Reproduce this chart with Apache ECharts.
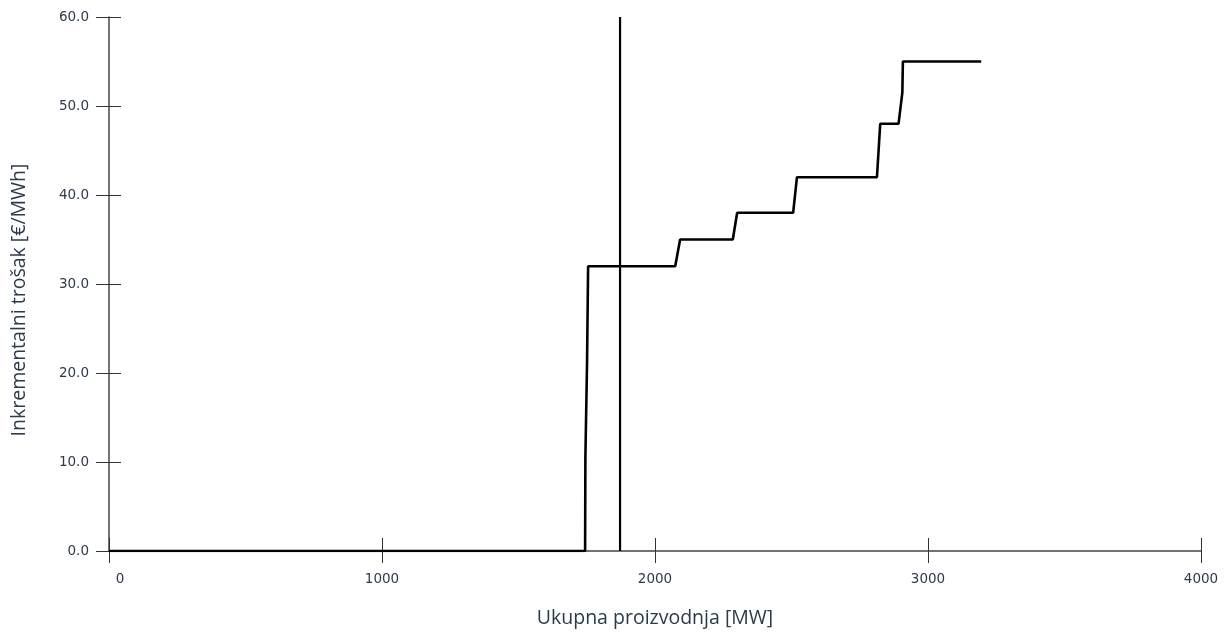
<!DOCTYPE html>
<html>
<head>
<meta charset="utf-8">
<script src="https://cdn.jsdelivr.net/npm/echarts@6/dist/echarts.min.js"></script>
<style>
  html, body { margin: 0; padding: 0; background: #fff; }
  #chart { width: 1225px; height: 634px; }
</style>
</head>
<body>
<div id="chart"></div>
<script>
// total production [MW] and incremental cost [€/MWh]
const production = [0, 1744, 1745, 1750, 1751, 1754, 1755, 2074, 2092, 2285, 2301, 2506, 2520, 2813, 2825, 2892, 2906, 2908, 3195];
const cost       = [0, 0, 10.5, 10.5, 21, 21, 32, 32, 35, 35, 38, 38, 42, 42, 48, 48, 51.5, 55, 55];

// vertical demand line
const demandX = [1872, 1872];
const demandY = [0, 60];

const xTicks = [0, 1000, 2000, 3000, 4000];
const yTicks = [0, 10, 20, 30, 40, 50, 60];

const pairs = (xs, ys) => xs.map((x, i) => [x, ys[i]]);

let myChart = echarts.init(document.getElementById('chart'));

const labelStyle = { color: '#2e3a4c', fontFamily: 'DejaVu Sans', fontSize: 13.5 };
const nameStyle = { color: '#2b3a4a', fontFamily: 'Open Sans', fontSize: 19.5 };

let option = {
  animation: false,
  grid: { left: 109, right: 24, top: 17, bottom: 83, containLabel: false, outerBoundsMode: 'none' },
  xAxis: [
    {
      type: 'value',
      min: xTicks[0], max: xTicks[xTicks.length - 1], interval: 1000,
      name: 'Ukupna proizvodnja [MW]',
      nameLocation: 'middle', nameGap: 57,
      nameTextStyle: nameStyle,
      axisLine: { show: true, onZero: false, lineStyle: { color: '#444', width: 1.5 } },
      axisTick: { show: true, length: 12, lineStyle: { color: '#333' } },
      axisLabel: Object.assign({
        margin: 21,
        // the "0" label sits a little right of its tick
        formatter: v => v === xTicks[0] ? '{first|' + v + '}' : String(v),
        rich: { first: Object.assign({ padding: [0, 0, 0, 22] }, labelStyle) }
      }, labelStyle),
      splitLine: { show: false }
    },
    {
      type: 'value', position: 'bottom',
      min: xTicks[0], max: xTicks[xTicks.length - 1], interval: 1000,
      axisLine: { show: false },
      axisTick: { show: true, inside: true, length: 13, lineStyle: { color: '#333' } },
      axisLabel: { show: false },
      splitLine: { show: false }
    }
  ],
  yAxis: [
    {
      type: 'value',
      min: yTicks[0], max: yTicks[yTicks.length - 1], interval: 10,
      name: 'Inkrementalni trošak [€/MWh]',
      nameLocation: 'middle', nameGap: 80,
      nameTextStyle: Object.assign({ padding: [0, 32, 0, 0] }, nameStyle),
      axisLine: { show: true, onZero: false, lineStyle: { color: '#444', width: 1.5 } },
      axisTick: { show: true, length: 13, lineStyle: { color: '#333' } },
      axisLabel: Object.assign({ margin: 20, formatter: v => v.toFixed(1) }, labelStyle),
      splitLine: { show: false }
    },
    {
      type: 'value', position: 'left',
      min: yTicks[0], max: yTicks[yTicks.length - 1], interval: 10,
      axisLine: { show: false },
      axisTick: { show: true, inside: true, length: 12, lineStyle: { color: '#333' } },
      axisLabel: { show: false },
      splitLine: { show: false }
    }
  ],
  series: [
    {
      name: 'incremental cost',
      type: 'line',
      data: pairs(production, cost),
      showSymbol: false,
      lineStyle: { color: '#000', width: 2.6 },
      z: 3
    },
    {
      name: 'demand',
      type: 'line',
      data: pairs(demandX, demandY),
      showSymbol: false,
      lineStyle: { color: '#000', width: 2.2 },
      z: 4
    }
  ]
};

option && myChart.setOption(option);
</script>
</body>
</html>
